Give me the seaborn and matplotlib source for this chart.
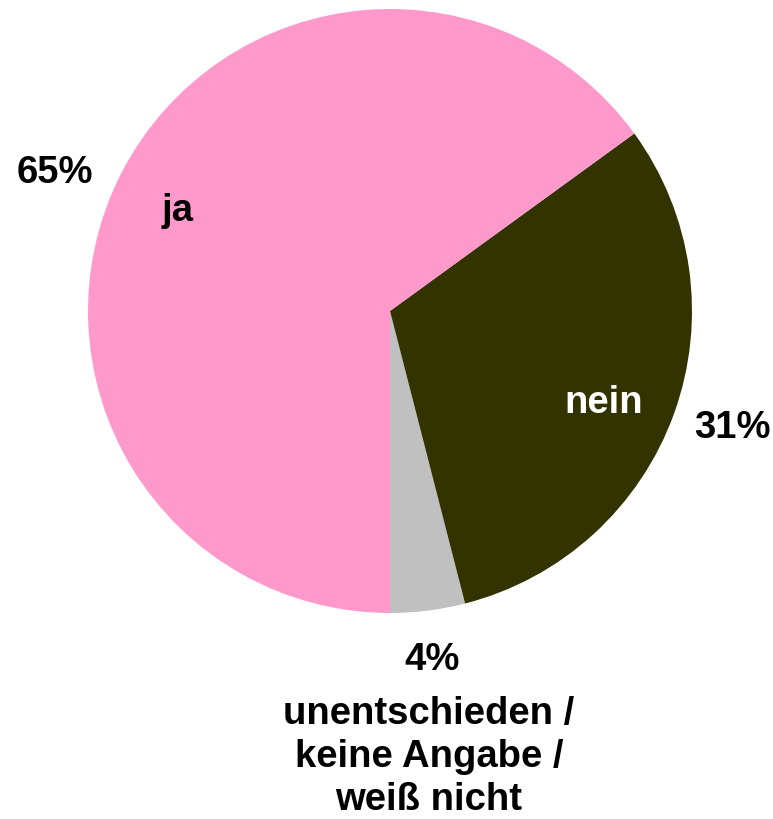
import matplotlib
matplotlib.use("Agg")
import matplotlib.pyplot as plt
import seaborn as sns

categories = ["unentschieden /\nkeine Angabe /\nweiß nicht", "nein", "ja"]
values = [4, 31, 65]
colors = ["#C0C0C0", "#333300", "#FF99CC"]

sns.set_theme(style="white")
plt.rcParams["font.family"] = ["Liberation Sans", "DejaVu Sans"]

W, H = 773, 820
CX, CY, R = 390, 312, 302

fig = plt.figure(figsize=(W / 100, H / 100), dpi=100)
ax = fig.add_axes([0, 0, 1, 1])
ax.pie(values, colors=colors, startangle=-90, counterclock=True, radius=1.0,
       wedgeprops=dict(linewidth=0))
ax.set_aspect("auto")
ax.set_xlim(-CX / R, (W - CX) / R)
ax.set_ylim(-(H - CY) / R, CY / R)
ax.axis("off")


def px(x, y):
    return (x - CX) / R, (CY - y) / R


fs = 27.5
# percent labels
pct_pos = [(432, 660), (732, 428), (55, 173)]
for v, (x, y) in zip(values, pct_pos):
    ax.text(*px(x, y), f"{v}%", ha="center", va="center", fontsize=fs,
            fontweight="bold", color="black")

# category labels
cat_pos = [(429, 757), (604, 403), (178, 211)]
cat_col = ["black", "white", "black"]
for c, (x, y), col in zip(categories, cat_pos, cat_col):
    ax.text(*px(x, y), c, ha="center", va="center", fontsize=fs,
            fontweight="bold", color=col, linespacing=1.25)

fig.savefig("out.png", dpi=100)
